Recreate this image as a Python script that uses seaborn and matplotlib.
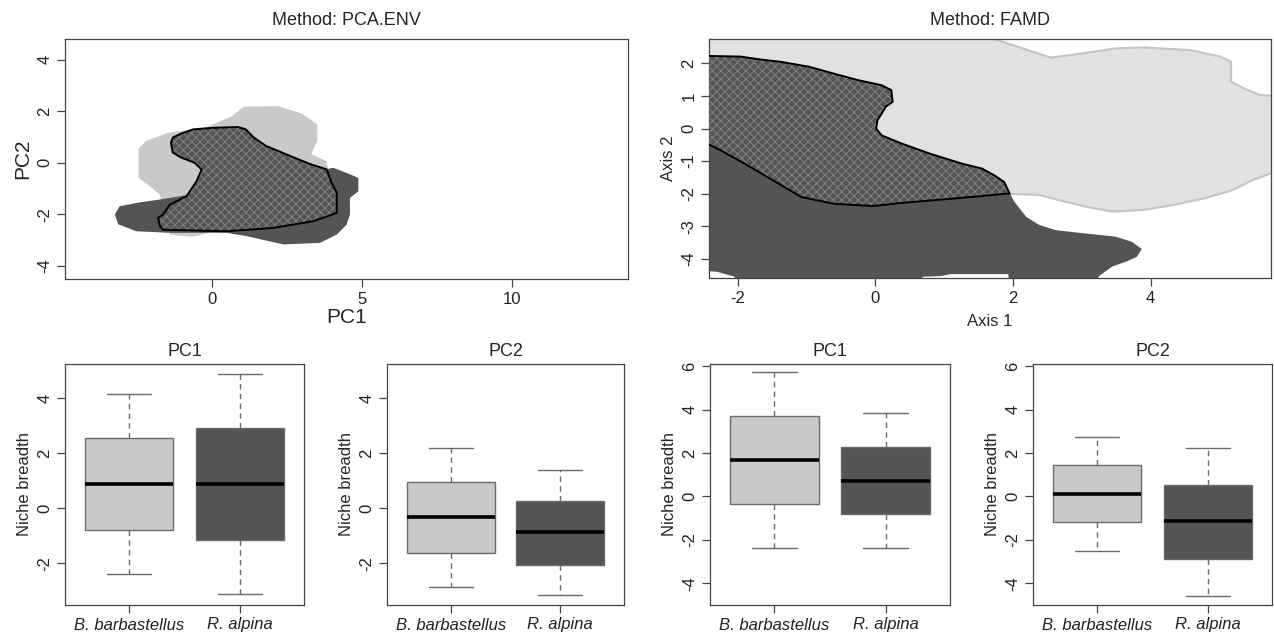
import numpy as np
import pandas as pd
import matplotlib
matplotlib.use("Agg")
import matplotlib.pyplot as plt
import seaborn as sns

sns.set_style("white")
plt.rcParams['font.family'] = ['Liberation Sans', 'DejaVu Sans']
plt.rcParams['hatch.linewidth'] = 0.8
plt.rcParams['axes.unicode_minus'] = False

# ---------------- data ----------------
SPECIES = ["B. barbastellus", "R. alpina"]

# Niche polygons, method PCA.ENV (PC1, PC2)
PCA_BB_X = [-2.45, -2.45, -2.2, -1.45, -0.25, 0.65, 1.05, 2.2, 3.0, 3.5, 3.5, 3.3, 3.8, 3.9,
            3.0, 0.5, -0.4, -0.7, -1.4, -1.6, -1.74, -2.08]
PCA_BB_Y = [-0.58, 0.55, 0.85, 1.17, 1.36, 1.8, 2.18, 2.2, 1.9, 1.5, 0.85, 0.33, 0.08, -0.4,
            -1.5, -2.5, -2.8, -2.87, -2.78, -2.0, -1.23, -0.9]
PCA_RA_X = [-3.24, -3.08, -2.41, -1.74, 0.5, 3.8, 4.03, 4.48, 4.87, 4.87, 4.59, 4.59, 4.48,
            4.15, 3.59, 2.37, 1.15, 0.48, -1.41, -2.52, -3.13]
PCA_RA_Y = [-2.0, -1.68, -1.53, -1.42, -1.0, -0.25, -0.19, -0.39, -0.58, -1.1, -1.36, -2.0, -2.39,
            -2.78, -3.1, -3.16, -2.84, -2.71, -2.71, -2.65, -2.38]
PCA_OV_X = [-1.37, -1.31, -1.04, -0.63, 0.04, 0.85, 1.12, 1.39, 1.79, 2.47, 3.27, 3.81, 3.98,
            4.15, 4.15, 3.37, 2.03, 0.48, -1.63, -1.74, -1.8, -1.63, -1.41, -0.85, -0.52, -0.35,
            -0.58, -1.04, -1.31]
PCA_OV_Y = [0.78, 0.98, 1.13, 1.3, 1.36, 1.39, 1.3, 0.98, 0.66, 0.33, -0.05, -0.25, -0.78,
            -1.16, -1.94, -2.26, -2.52, -2.65, -2.59, -2.46, -2.13, -2.0, -1.62, -1.29, -0.71, -0.26,
            0.0, 0.21, 0.4]

# Niche polygons, method FAMD (Axis 1, Axis 2)
FAMD_BB_X = [-3.0, 1.6, 1.73, 2.14, 2.55, 3.02, 3.48, 3.89, 4.57, 5.01, 5.17, 5.17, 5.36, 5.59,
             6.5, 6.5, 5.74, 5.48, 5.18, 4.77, 4.3, 3.89, 3.44, 3.06, 2.77, 2.38, 1.99, 1.0, -3.0]
FAMD_BB_Y = [3.5, 3.5, 2.75, 2.46, 2.18, 2.31, 2.46, 2.49, 2.41, 2.21, 2.05, 1.44, 1.23, 1.03,
             0.9, -1.0, -1.38, -1.59, -1.9, -2.15, -2.36, -2.5, -2.55, -2.4, -2.25, -2.04, -2.01, -2.0, -1.0]
FAMD_RA_X = [-2.6, -2.38, 0.0, 1.95, 2.02, 2.09, 2.19, 2.38, 2.62, 3.0, 3.49, 3.73, 3.87, 3.8,
             3.64, 3.44, 3.25, 3.2, 1.95, 1.93, 1.1, 0.95, 0.69, 0.6, -2.0, -2.05, -2.3, -2.6]
FAMD_RA_Y = [-0.46, -0.46, -1.5, -1.98, -2.25, -2.44, -2.71, -2.96, -3.12, -3.21, -3.32, -3.48, -3.7, -3.94,
             -4.09, -4.24, -4.53, -4.8, -4.8, -4.47, -4.47, -4.53, -4.55, -4.8, -4.8, -4.55, -4.4, -4.35]
FAMD_OV_X = [-2.45, -1.96, -1.67, -1.38, -0.97, -0.61, -0.26, 0.09, 0.23, 0.25, 0.15, 0.09, 0.03,
             0.01, 0.09, 0.38, 0.79, 1.26, 1.55, 1.73, 1.87, 1.95, 1.46, 0.35, -0.03, -0.61, -1.08,
             -1.49, -1.9, -2.25, -2.45]
FAMD_OV_Y = [2.23, 2.21, 2.12, 2.05, 1.9, 1.69, 1.49, 1.33, 1.18, 0.82, 0.67, 0.46, 0.26,
             0.0, -0.21, -0.46, -0.77, -1.08, -1.23, -1.44, -1.64, -1.99, -2.09, -2.29, -2.38, -2.31, -2.1,
             -1.59, -1.08, -0.67, -0.46]

# Box summaries (min, Q1, median, Q3, max) of niche breadth
PCA_PC1_BB = [-2.40, -0.79, 0.90, 2.55, 4.16]
PCA_PC1_RA = [-3.13, -1.15, 0.90, 2.93, 4.90]
PCA_PC2_BB = [-2.88, -1.61, -0.32, 0.97, 2.20]
PCA_PC2_RA = [-3.15, -2.07, -0.86, 0.27, 1.39]
FAMD_PC1_BB = [-2.38, -0.35, 1.66, 3.69, 5.72]
FAMD_PC1_RA = [-2.38, -0.82, 0.72, 2.28, 3.85]
FAMD_PC2_BB = [-2.49, -1.20, 0.12, 1.46, 2.74]
FAMD_PC2_RA = [-4.57, -2.86, -1.15, 0.54, 2.23]

LIGHT = "#c9c9c9"
DARK = "#545454"
FAMD_LIGHT = "#e1e1e1"
FRAME = "#454545"

W, H = 1274, 639
fig = plt.figure(figsize=(W / 100, H / 100), dpi=100)


def add_ax(l, r, t, b):
    return fig.add_axes([l / W, 1 - b / H, (r - l) / W, (b - t) / H])


def style(ax, labelsize=12):
    for s in ax.spines.values():
        s.set_color(FRAME)
        s.set_linewidth(0.9)
        s.set_visible(True)
    ax.tick_params(axis='both', direction='out', length=6, width=0.9, color=FRAME,
                   labelsize=labelsize, left=True, bottom=True, pad=3, labelcolor='#222222')
    ax.tick_params(axis='y', labelrotation=90)
    for lbl in ax.get_yticklabels():
        lbl.set_va('center')
    ax.grid(False)


def overlap(ax, x, y):
    ax.fill(x, y, facecolor=DARK, edgecolor='none', zorder=3)
    ax.fill(x, y, facecolor='none', edgecolor='#7e7e7e', hatch='xxxx', linewidth=0, zorder=4)
    ax.fill(x, y, facecolor='none', edgecolor='black', linewidth=1.4, zorder=5)


# ---------------- top-left: PCA.ENV ----------------
ax1 = add_ax(65, 628, 39, 279)
ax1.fill(PCA_BB_X, PCA_BB_Y, facecolor=LIGHT, edgecolor='none', zorder=1)
ax1.fill(PCA_RA_X, PCA_RA_Y, facecolor=DARK, edgecolor='none', zorder=2)
overlap(ax1, PCA_OV_X, PCA_OV_Y)
ax1.set_xlim(-4.9, 13.85)
ax1.set_ylim(-4.5, 4.8)
ax1.set_xticks([0, 5, 10])
ax1.set_yticks([-4, -2, 0, 2, 4])
style(ax1)
ax1.set_xlabel("PC1", fontsize=15, labelpad=1)
ax1.set_ylabel("PC2", fontsize=15, labelpad=4)
ax1.set_title("Method: PCA.ENV", fontsize=13, pad=10)

# ---------------- top-right: FAMD ----------------
ax2 = add_ax(709, 1271, 39, 278)
ax2.fill(FAMD_BB_X, FAMD_BB_Y, facecolor=FAMD_LIGHT, edgecolor='#c4c4c4', linewidth=1.5, zorder=1)
ax2.fill(FAMD_RA_X, FAMD_RA_Y, facecolor=DARK, edgecolor='none', zorder=2)
overlap(ax2, FAMD_OV_X, FAMD_OV_Y)
ax2.set_xlim(-2.42, 5.75)
ax2.set_ylim(-4.59, 2.75)
ax2.set_xticks([-2, 0, 2, 4])
ax2.set_yticks([-4, -3, -2, -1, 0, 1, 2])
style(ax2)
ax2.set_xlabel("Axis 1", fontsize=12, labelpad=6)
ax2.set_ylabel("Axis 2", fontsize=12, labelpad=4)
ax2.set_title("Method: FAMD", fontsize=13, pad=10)


# ---------------- boxplots ----------------
def box_panel(ax, bb, ra, title, ylim, yticks):
    df = pd.DataFrame({
        "species": [SPECIES[0]] * len(bb) + [SPECIES[1]] * len(ra),
        "value": bb + ra,
    })
    sns.boxplot(data=df, x="species", y="value", hue="species", palette=[LIGHT, DARK],
                saturation=1, width=0.8, whis=(0, 100), linecolor="#6a6a6a", linewidth=1.0,
                medianprops=dict(color="black", linewidth=2.6),
                whiskerprops=dict(linestyle=(0, (4, 3))),
                legend=False, ax=ax)
    ax.set_xlim(-0.58, 1.58)
    ax.set_ylim(*ylim)
    ax.set_yticks(yticks)
    ax.set_xticks([0, 1])
    ax.set_xticklabels(SPECIES, fontstyle="italic")
    style(ax, labelsize=12)
    ax.set_xlabel("")
    ax.set_ylabel("Niche breadth", fontsize=12, labelpad=4)
    ax.set_title(title, fontsize=13, pad=6)


b1 = add_ax(65, 304, 364, 605)
box_panel(b1, PCA_PC1_BB, PCA_PC1_RA, "PC1", (-3.52, 5.25), [-2, 0, 2, 4])
b2 = add_ax(387, 624, 364, 605)
box_panel(b2, PCA_PC2_BB, PCA_PC2_RA, "PC2", (-3.52, 5.25), [-2, 0, 2, 4])
b3 = add_ax(710, 950, 364, 605)
box_panel(b3, FAMD_PC1_BB, FAMD_PC1_RA, "PC1", (-5.0, 6.1), [-4, -2, 0, 2, 4, 6])
b4 = add_ax(1033, 1272, 364, 605)
box_panel(b4, FAMD_PC2_BB, FAMD_PC2_RA, "PC2", (-5.0, 6.1), [-4, -2, 0, 2, 4, 6])

fig.savefig("out.png", dpi=100, facecolor="white")
